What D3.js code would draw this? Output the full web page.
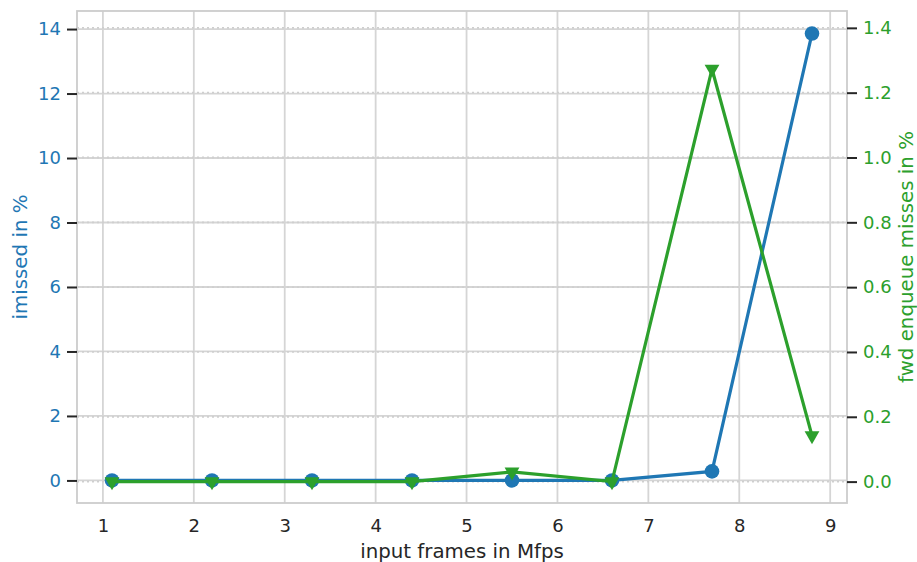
<!DOCTYPE html>
<html lang="en">
<head>
    <meta charset="UTF-8">
    <title>imissed vs fwd enqueue misses</title>
    <script src="https://d3js.org/d3.v7.min.js"></script>
    <style>
        body { margin: 0; background: #fff; }
        text { font-family: "DejaVu Sans", sans-serif; }
    </style>
</head>
<body>
    <svg id="chart"></svg>
    <script>
        // input frames in Mfps
        const frames = [1.1, 2.2, 3.3, 4.4, 5.5, 6.6, 7.7, 8.8];
        // imissed in %
        const imissed = [0, 0, 0, 0, 0, 0, 0.28, 13.86];
        // fwd enqueue misses in %
        const fwdMisses = [0, 0, 0, 0, 0.03, 0, 1.273, 0.142];

        const xTicks = [1, 2, 3, 4, 5, 6, 7, 8, 9];
        const leftTicks = [0, 2, 4, 6, 8, 10, 12, 14];
        const rightTicks = [0, 0.2, 0.4, 0.6, 0.8, 1.0, 1.2, 1.4];

        const blue = "#1f77b4", green = "#2ca02c";
        const W = 917, H = 562;
        const margin = { top: 11, right: 70, bottom: 59, left: 77 };
        const width = W - margin.left - margin.right;
        const height = H - margin.top - margin.bottom;

        const svg = d3.select("#chart")
                      .attr("width", W)
                      .attr("height", H);

        const g = svg.append("g")
                     .attr("transform", `translate(${margin.left},${margin.top})`);

        const x = d3.scaleLinear().domain([0.715, 9.185]).range([0, width]);
        const yL = d3.scaleLinear().domain([-0.70, 14.56]).range([height, 0]);
        const yR = d3.scaleLinear().domain([-0.066, 1.452]).range([height, 0]);

        // grid
        g.append("g").selectAll("line")
         .data(xTicks).enter().append("line")
         .attr("x1", d => x(d)).attr("x2", d => x(d))
         .attr("y1", 0).attr("y2", height)
         .attr("stroke", "#d5d5d5").attr("stroke-width", 1.8);

        g.append("g").selectAll("line")
         .data(leftTicks).enter().append("line")
         .attr("x1", 0).attr("x2", width)
         .attr("y1", d => yL(d)).attr("y2", d => yL(d))
         .attr("stroke", "#d5d5d5").attr("stroke-width", 1.8);

        g.append("g").selectAll("line")
         .data(rightTicks).enter().append("line")
         .attr("x1", 0).attr("x2", width)
         .attr("y1", d => yR(d)).attr("y2", d => yR(d))
         .attr("stroke", "#cfcfcf").attr("stroke-width", 1.8)
         .attr("stroke-dasharray", "2,3");

        // frame
        g.append("rect")
         .attr("width", width).attr("height", height)
         .attr("fill", "none").attr("stroke", "#cccccc").attr("stroke-width", 1.8);

        // axes
        const xAxis = g.append("g")
                       .attr("transform", `translate(0,${height})`)
                       .call(d3.axisBottom(x).tickValues(xTicks).tickSize(0).tickPadding(16).tickFormat(d3.format("d")));

        const leftAxis = g.append("g")
                          .call(d3.axisLeft(yL).tickValues(leftTicks).tickSize(10).tickPadding(6).tickFormat(d3.format("d")));

        const rightAxis = g.append("g")
                           .attr("transform", `translate(${width},0)`)
                           .call(d3.axisRight(yR).tickValues(rightTicks).tickSize(10).tickPadding(6).tickFormat(d3.format(".1f")));

        [xAxis, leftAxis, rightAxis].forEach(a => {
            a.select(".domain").remove();
            a.selectAll("line").attr("stroke", "#262626").attr("stroke-width", 2);
            a.selectAll("text").style("font-size", "18px");
        });
        xAxis.selectAll("text").attr("fill", "#262626");
        leftAxis.selectAll("text").attr("fill", blue);
        rightAxis.selectAll("text").attr("fill", green);

        // blue series
        g.append("path")
         .datum(frames.map((f, i) => [f, imissed[i]]))
         .attr("fill", "none").attr("stroke", blue).attr("stroke-width", 3.2)
         .attr("d", d3.line().x(d => x(d[0])).y(d => yL(d[1])));

        g.selectAll(".dot")
         .data(frames.map((f, i) => [f, imissed[i]]))
         .enter().append("circle")
         .attr("class", "dot")
         .attr("cx", d => x(d[0])).attr("cy", d => yL(d[1]))
         .attr("r", 7.3).attr("fill", blue);

        // green series
        g.append("path")
         .datum(frames.map((f, i) => [f, fwdMisses[i]]))
         .attr("fill", "none").attr("stroke", green).attr("stroke-width", 3.2)
         .attr("d", d3.line().x(d => x(d[0])).y(d => yR(d[1])));

        const tri = d3.symbol().type(d3.symbolTriangle).size(95);
        g.selectAll(".tri")
         .data(frames.map((f, i) => [f, fwdMisses[i]]))
         .enter().append("path")
         .attr("class", "tri")
         .attr("d", tri)
         .attr("transform", d => `translate(${x(d[0])},${yR(d[1])}) rotate(180)`)
         .attr("fill", green);

        // labels
        svg.append("text")
           .attr("x", margin.left + width / 2).attr("y", 558)
           .attr("text-anchor", "middle")
           .attr("fill", "#262626").style("font-size", "19.8px")
           .text("input frames in Mfps");

        svg.append("text")
           .attr("transform", `translate(27,${margin.top + height / 2}) rotate(-90)`)
           .attr("text-anchor", "middle")
           .attr("fill", blue).style("font-size", "19.8px")
           .text("imissed in %");

        svg.append("text")
           .attr("transform", `translate(913,${margin.top + height / 2}) rotate(-90)`)
           .attr("text-anchor", "middle")
           .attr("fill", green).style("font-size", "19.8px")
           .text("fwd enqueue misses in %");
    </script>
</body>
</html>
